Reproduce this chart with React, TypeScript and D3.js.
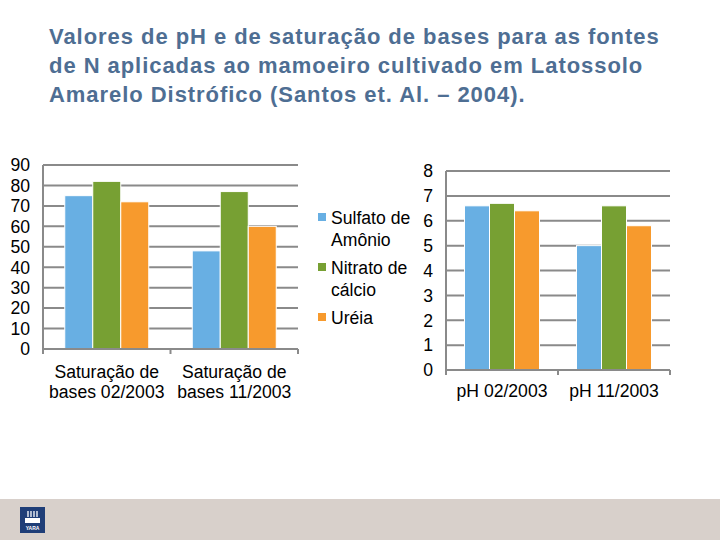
import { useEffect, useRef } from 'react';
import * as d3 from 'd3';

// series names and colours
const series = ['Sulfato de Amônio', 'Nitrato de cálcio', 'Uréia'];
const legendLines = [['Sulfato de', 'Amônio'], ['Nitrato de', 'cálcio'], ['Uréia']];
const colors = ['#68AFE3', '#77A033', '#F79A2D'];

// left chart: saturação de bases
const satCategories = [['Saturação de', 'bases 02/2003'], ['Saturação de', 'bases 11/2003']];
const satValues = [
    [75, 82, 72],
    [48, 77, 60],
];
const satTicks = [0, 10, 20, 30, 40, 50, 60, 70, 80, 90];

// right chart: pH
const phCategories = ['pH 02/2003', 'pH 11/2003'];
const phValues = [
    [6.6, 6.7, 6.4],
    [5.0, 6.6, 5.8],
];
const phTicks = [0, 1, 2, 3, 4, 5, 6, 7, 8];

const titleLines = [
    'Valores de pH e de saturação de bases para as fontes',
    'de N aplicadas ao mamoeiro cultivado em Latossolo',
    'Amarelo Distrófico (Santos et. Al. – 2004).',
];

const App = () => {
    const ref = useRef(null);

    useEffect(() => {
        const svg = d3.select(ref.current);
        svg.selectAll('*').remove();
        const font = '"Liberation Sans", Arial, sans-serif';
        const fs = '17.6px';
        const grid = '#8a8a8a';

        svg.append('rect').attr('width', 720).attr('height', 540).attr('fill', '#fff');

        // title
        svg.append('g')
            .selectAll('text')
            .data(titleLines)
            .join('text')
            .attr('x', 49)
            .attr('y', (d, i) => 44 + i * 29)
            .attr('fill', '#4E6E93')
            .style('font', `bold 22px ${font}`)
            .style('letter-spacing', '0.95px')
            .text(d => d);

        // footer band + logo
        svg.append('rect').attr('x', 0).attr('y', 499).attr('width', 720).attr('height', 41).attr('fill', '#D8D0CB');
        const logo = svg.append('g').attr('transform', 'translate(20,507)');
        logo.append('rect').attr('width', 25).attr('height', 26).attr('fill', '#1F3E78');
        logo.append('path').attr('d', 'M8,4 v6 M11,4 v6 M14,4 v6 M17,4 v6').attr('stroke', '#fff').attr('stroke-width', 1.3);
        logo.append('rect').attr('x', 5).attr('y', 11).attr('width', 15).attr('height', 5).attr('fill', '#fff');
        logo.append('text').attr('x', 12.5).attr('y', 23).attr('text-anchor', 'middle').attr('fill', '#fff')
            .style('font', `bold 5px ${font}`).text('YARA');

        function drawChart(opts) {
            const { x0, x1, yTop, yBottom, max, ticks, values, labelX, barW, cats } = opts;
            const g = svg.append('g');
            const y = d3.scaleLinear().domain([0, max]).range([yBottom, yTop]);
            const xb = d3.scaleBand().domain(d3.range(values.length)).range([x0, x1]);
            const xs = d3.scaleBand().domain(d3.range(series.length)).range([0, barW * 3]);

            g.selectAll('line.grid')
                .data(ticks.slice(1))
                .join('line')
                .attr('x1', x0).attr('x2', x1)
                .attr('y1', d => y(d)).attr('y2', d => y(d))
                .attr('stroke', grid).attr('stroke-width', 2);

            g.selectAll('text.tick')
                .data(ticks)
                .join('text')
                .attr('x', labelX)
                .attr('y', d => y(d))
                .attr('dy', '0.36em')
                .attr('text-anchor', 'end')
                .style('font', `${fs} ${font}`)
                .text(d => d);

            values.forEach((vals, ci) => {
                const cx = xb(ci) + xb.bandwidth() / 2 - barW * 1.5;
                g.append('g')
                    .selectAll('rect')
                    .data(vals)
                    .join('rect')
                    .attr('x', (d, i) => cx + xs(i))
                    .attr('y', d => y(d))
                    .attr('width', xs.bandwidth())
                    .attr('height', d => yBottom - y(d))
                    .attr('fill', (d, i) => colors[i])
                    .attr('stroke', '#fff')
                    .attr('stroke-width', 1);
            });

            // axes
            g.append('line').attr('x1', x0).attr('x2', x0).attr('y1', yTop).attr('y2', yBottom + 5)
                .attr('stroke', grid).attr('stroke-width', 2);
            g.append('line').attr('x1', x0).attr('x2', x1).attr('y1', yBottom).attr('y2', yBottom)
                .attr('stroke', grid).attr('stroke-width', 2);
            g.selectAll('line.xt')
                .data(d3.range(values.length + 1))
                .join('line')
                .attr('x1', d => x0 + d * xb.bandwidth()).attr('x2', d => x0 + d * xb.bandwidth())
                .attr('y1', yBottom).attr('y2', yBottom + 5)
                .attr('stroke', grid).attr('stroke-width', 2);

            cats.forEach((lines, ci) => {
                g.append('g')
                    .selectAll('text')
                    .data(lines)
                    .join('text')
                    .attr('x', xb(ci) + xb.bandwidth() / 2)
                    .attr('y', (d, i) => opts.catY + i * 20)
                    .attr('text-anchor', 'middle')
                    .style('font', `${fs} ${font}`)
                    .text(d => d);
            });
        }

        drawChart({
            x0: 43, x1: 298, yTop: 165, yBottom: 349, max: 90, ticks: satTicks,
            values: satValues, labelX: 30, barW: 28, cats: satCategories, catY: 378,
        });
        drawChart({
            x0: 446, x1: 670, yTop: 171, yBottom: 370, max: 8, ticks: phTicks,
            values: phValues, labelX: 433, barW: 25, cats: phCategories.map(d => [d]), catY: 397,
        });

        // legend
        const lg = svg.append('g');
        const rowY = [218, 268, 318];
        legendLines.forEach((lines, i) => {
            lg.append('rect').attr('x', 318).attr('y', rowY[i] - 5).attr('width', 8).attr('height', 8).attr('fill', colors[i]);
            lg.append('g')
                .selectAll('text')
                .data(lines)
                .join('text')
                .attr('x', 331)
                .attr('y', (d, j) => rowY[i] + j * 22)
                .attr('dy', '0.36em')
                .style('font', `${fs} ${font}`)
                .text(d => d);
        });
    }, []);

    return <svg ref={ref} width={720} height={540} style={{ position: 'absolute', left: 0, top: 0 }} />;
};

export default App;
